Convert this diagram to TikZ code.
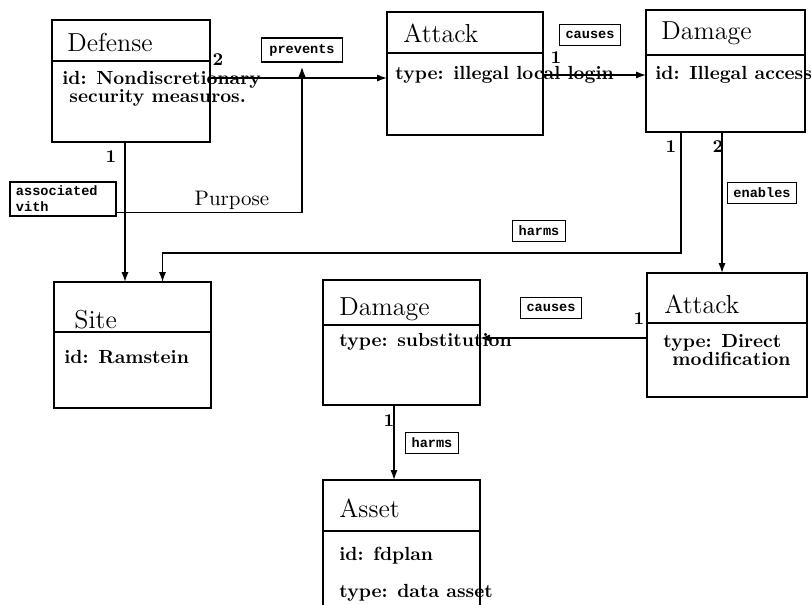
\documentclass[tikz,border=0pt]{standalone}
\usepackage{fontspec}
\usepackage{tikz}
\usetikzlibrary{arrows.meta,positioning}
\newfontfamily\tagfont{Liberation Mono}

\tikzset{
  classhead/.style={draw, line width=0.9pt, inner sep=0pt, outer sep=0pt, anchor=north west},
  classbody/.style={draw, line width=0.9pt, inner sep=0pt, outer sep=0pt, below=0pt of #1},
  classname/.style={anchor=base west, inner sep=0pt, font=\fontsize{13}{15}\selectfont},
  attrline/.style={anchor=base west, inner sep=0pt, font=\fontsize{9.5}{11}\selectfont\bfseries},
  tag/.style={draw, line width=0.8pt, inner xsep=3pt, inner ysep=1.5pt, minimum height=10.5pt,
    font=\fontsize{6.8}{8}\selectfont\tagfont\bfseries},
  mult/.style={inner sep=0pt, font=\fontsize{9}{10}\selectfont\bfseries},
  conn/.style={line width=0.7pt, -{Latex[length=5pt,width=3.6pt]}}
}

\begin{document}
\begin{tikzpicture}[x=0.5pt, y=-0.5pt]
  \clip (0,0) rectangle (812,604);

  % class boxes
  \node[classhead, minimum width=79pt, minimum height=20.5pt] (defense) at (52,20) {};
  \node[classbody=defense, minimum width=79pt, minimum height=40.5pt] (defenseattr) {};
  \node[classhead, minimum width=78pt, minimum height=20.5pt] (attack) at (387,12) {};
  \node[classbody=attack, minimum width=78pt, minimum height=41pt] (attackattr) {};
  \node[classhead, minimum width=79.5pt, minimum height=22.5pt] (damage) at (646,10) {};
  \node[classbody=damage, minimum width=79.5pt, minimum height=38.5pt] (damageattr) {};
  \node[classhead, minimum width=78.5pt, minimum height=25pt] (site) at (54,282) {};
  \node[classbody=site, minimum width=78.5pt, minimum height=38pt] (siteattr) {};
  \node[classhead, minimum width=78.5pt, minimum height=22.5pt] (subst) at (323,280) {};
  \node[classbody=subst, minimum width=78.5pt, minimum height=40pt] (substattr) {};
  \node[classhead, minimum width=80pt, minimum height=25pt] (modify) at (647,273) {};
  \node[classbody=modify, minimum width=80pt, minimum height=37pt] (modifyattr) {};
  \node[classhead, minimum width=78.5pt, minimum height=25.5pt] (asset) at (323,480) {};
  \node[classbody=asset, minimum width=78.5pt, minimum height=50pt] (assetattr) {};

  % class names
  \node[classname] (defensename) at (67,52) {Defense};
  \node[classname] (attackname) at (403,43) {Attack};
  \node[classname] (damagename) at (661,40) {Damage};
  \node[classname] (sitename) at (74,328) {Site};
  \node[classname] (substname) at (339,315) {Damage};
  \node[classname] (modifyname) at (664,313) {Attack};
  \node[classname] (assetname) at (339,517) {Asset};

  % attributes
  \node[attrline] (defenseid) at (62,85) {id: Nondiscretionary};
  \node[attrline] (defenseid2) at (69,103) {security measuros.};
  \node[attrline] (attacktype) at (395,80) {type: illegal local login};
  \node[attrline] (damageid) at (655,80) {id: Illegal access};
  \node[attrline] (siteid) at (64,363) {id: Ramstein};
  \node[attrline] (substtype) at (339,346) {type: substitution};
  \node[attrline] (modifytype) at (663,347) {type: Direct};
  \node[attrline] (modifytype2) at (672,365) {modification};
  \node[attrline] (assetid) at (339,560) {id: fdplan};
  \node[attrline] (assettype) at (339,597) {type: data asset};

  % relation tags
  \node[tag, minimum height=12pt, inner xsep=4pt] (prevents) at (302,50) {prevents};
  \node[tag] (causes) at (590,35) {causes};
  \node[tag, text width=47pt, align=left, inner ysep=2pt] (assoc) at (63,199) {associated\\vith};
  \node[tag] (harms) at (539,231) {harms};
  \node[tag] (enables) at (762,193) {enables};
  \node[tag] (causes2) at (551,308) {causes};
  \node[tag] (harms2) at (432,443) {harms};
  \node[inner sep=0pt, font=\fontsize{10.5}{12}\selectfont] (purpose) at (232,200) {Purpose};

  % connectors
  \draw[conn] (defenseattr.east |- 0,78) -- (attackattr.west |- 0,78);
  \draw[conn] ([yshift=2pt]assoc.south east) -| ([yshift=-2pt]prevents.south);
  \draw[conn] ([xshift=-3pt]defenseattr.south) -- ([xshift=-3pt]defenseattr.south |- site.north);
  \draw[conn] (attackattr.east |- 0,75) -- (damageattr.west |- 0,75);
  \draw[conn] (681,0 |- damageattr.south) -- ++(0,121) -| ([xshift=15pt]site.north);
  \draw[conn] (722,0 |- damageattr.south) -- (722,0 |- modify.north);
  \draw[conn] (modifyattr.west |- 0,338) -- (substattr.east |- 0,338);
  \draw[conn] (394,0 |- substattr.south) -- (394,0 |- asset.north);

  % multiplicities
  \node[mult] (m1) at (218,60) {2};
  \node[mult] (m2) at (111,157) {1};
  \node[mult] (m3) at (556,58) {1};
  \node[mult] (m4) at (671,147) {1};
  \node[mult] (m5) at (718,147) {2};
  \node[mult] (m6) at (639,319) {1};
  \node[mult] (m7) at (389,421) {1};
\end{tikzpicture}
\end{document}
